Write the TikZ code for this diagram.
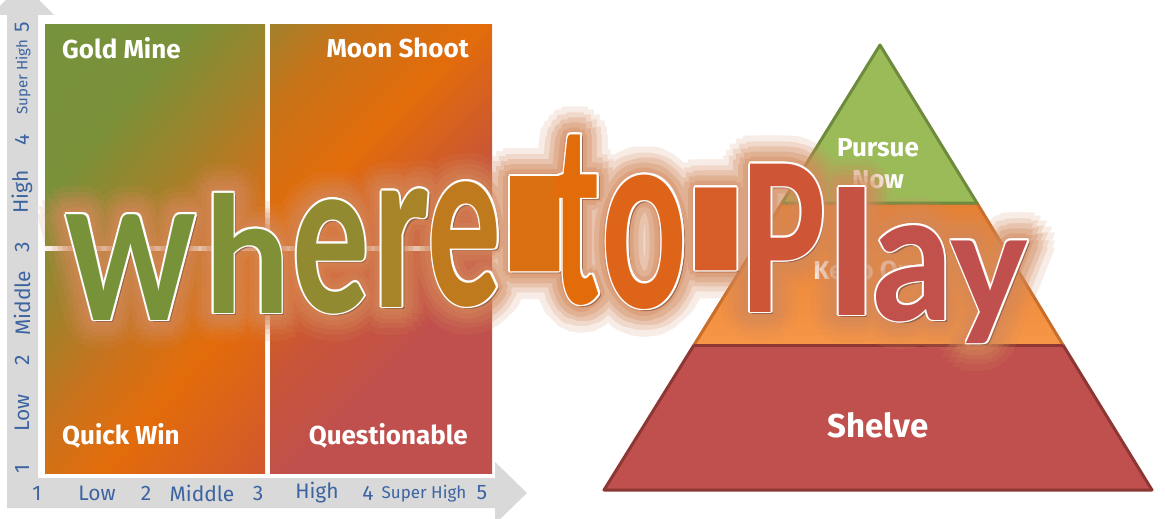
\documentclass[tikz,border=0pt]{standalone}
\usepackage{fontspec}
\setmainfont{Fira Sans}
\newfontfamily\wafam{Carlito}
\usepackage{graphicx}
\definecolor{axgray}{RGB}{217,217,217}
\definecolor{axblue}{RGB}{60,100,160}
\definecolor{qG}{RGB}{118,146,60}
\definecolor{qGtwo}{RGB}{122,145,57}
\definecolor{qOB}{RGB}{160,130,42}
\definecolor{qBO}{RGB}{200,115,30}
\definecolor{qOr}{RGB}{227,108,10}
\definecolor{qRO}{RGB}{210,88,45}
\definecolor{qOl}{RGB}{160,130,45}
\definecolor{qOrtwo}{RGB}{200,115,25}
\definecolor{qRdtwo}{RGB}{200,85,55}
\definecolor{qR}{RGB}{192,80,77}
\definecolor{pyG}{RGB}{155,187,89}
\definecolor{pyGb}{RGB}{110,139,61}
\definecolor{pyOt}{RGB}{228,128,52}
\definecolor{pyOb}{RGB}{247,150,70}
\definecolor{pyObd}{RGB}{200,110,40}
\definecolor{pyR}{RGB}{192,80,77}
\definecolor{pyRb}{RGB}{140,55,52}
\definecolor{waglowc}{RGB}{212,136,90}
\definecolor{washadow}{RGB}{150,95,65}
\definecolor{waA}{RGB}{120,146,58}
\definecolor{waB}{RGB}{128,144,55}
\definecolor{waC}{RGB}{145,138,48}
\definecolor{waD}{RGB}{168,132,40}
\definecolor{waE}{RGB}{192,122,30}
\definecolor{waF}{RGB}{218,112,18}
\definecolor{waG}{RGB}{227,108,10}
\definecolor{waH}{RGB}{222,100,25}
\definecolor{waI}{RGB}{214,92,40}
\definecolor{waJ}{RGB}{206,86,55}
\definecolor{waK}{RGB}{198,82,68}
\definecolor{waL}{RGB}{194,80,75}
\definecolor{waM}{RGB}{192,80,77}
\pgfdeclarehorizontalshading{leftq}{100bp}{color(0bp)=(qG); color(25.2bp)=(qG); color(37.2bp)=(qGtwo); color(45.9bp)=(qOB); color(53.3bp)=(qBO); color(61.1bp)=(qOr); color(74.3bp)=(qRO); color(100bp)=(qRO)}
\pgfdeclarehorizontalshading{rightq}{100bp}{color(0bp)=(qOl); color(25bp)=(qOl); color(31.6bp)=(qOrtwo); color(41bp)=(qOr); color(51.4bp)=(qRdtwo); color(59.7bp)=(qR); color(100bp)=(qR)}
\tikzset{
  qlabel/.style={text=white, font=\fontsize{26}{28}\selectfont\bfseries, inner sep=0pt},
  axlabel/.style={text=axblue, font=\fontsize{21}{23}\selectfont, inner sep=0pt},
  axsmall/.style={text=axblue, font=\fontsize{17}{19}\selectfont, inner sep=0pt},
  pylabel/.style={text=white, font=\fontsize{26}{28}\selectfont\bfseries, inner sep=0pt},
  waletter/.style={anchor=base, inner sep=0pt, font=\wafam\bfseries\fontsize{160}{160}\selectfont},
}
\newcommand\waletters[1]{%
  \foreach \ch/\cx/\by/\sx/\sy/\col in {
    W/131/320/0.9/1.02/waA,
    h/247/313/1.0/1.07/waB,
    e/331/312/0.96/1.43/waC,
    r/402/307/1.0/1.5/waD,
    e/465/305/0.92/1.57/waE,
    -/535/486/1.25/5.75/waF,
    t/577/303/0.87/1.67/waG,
    o/645/307/1.0/1.68/waH,
    -/716/457/1.05/5.0/waI,
    P/784/312/1.0/1.43/waJ,
    l/852/315/1.3/1.14/waK,
    a/912/320/1.05/1.2/waL,
    y/990/318/1.03/1.0/waM}{%
    \node[waletter,text=\col,#1] at (\cx,\by) {\scalebox{\sx}[\sy]{\ch}};}}
\newcommand\waglow[3]{%
  \begin{scope}[transparency group, opacity=#3]
    \foreach \ang in {0,#2,...,359}{\waletters{text=waglowc, xshift={#1*cos(\ang)*1pt}, yshift={#1*sin(\ang)*1pt}}}
  \end{scope}}
\begin{document}
\begin{tikzpicture}[x=1pt,y=-1pt]
\useasboundingbox (0,0) rectangle (1165,519);
\fill[white] (0,0) rectangle (1165,519);
% axes
\fill[axgray] (7,508) -- (7,15) -- (-9,15) -- (22.5,-17) -- (54,15) -- (38,15) -- (38,478)
  -- (495,478) -- (495,462) -- (527,493) -- (495,524) -- (495,508) -- cycle;
% quadrant panels
\begin{scope}
  \clip (45,25) rectangle (265,473);
  \begin{scope}[transform canvas={rotate around={-40:(155,249)}}]
    \shade[shading=leftq] (-75,4) rectangle (385,494);
  \end{scope}
\end{scope}
\begin{scope}
  \clip (270,25) rectangle (492,473);
  \begin{scope}[transform canvas={rotate around={-45:(381,249)}}]
    \shade[shading=rightq] (141,9) rectangle (621,489);
  \end{scope}
\end{scope}
\fill[white] (45,245.5) rectangle (492,250.5);
% quadrant labels
\node[qlabel, anchor=west] (gold) at (62,48) {Gold Mine};
\node[qlabel, anchor=east] (moon) at (469,48) {Moon Shoot};
\node[qlabel, anchor=west] (quick) at (62,436) {Quick Win};
\node[qlabel, anchor=east] (quest) at (468,436) {Questionable};
% horizontal axis labels
\node[axlabel] (h1) at (37,493) {1};
\node[axlabel] (hlow) at (97,493) {Low};
\node[axlabel] (h2) at (146,493) {2};
\node[axlabel] (hmid) at (202,493) {Middle};
\node[axlabel] (h3) at (258,493) {3};
\node[axlabel] (hhigh) at (317,493) {High};
\node[axlabel] (h4) at (368,493) {4};
\node[axsmall] (hsup) at (424,494) {Super High};
\node[axlabel] (h5) at (482,493) {5};
% vertical axis labels
\node[axlabel, rotate=90] (v1) at (22,469) {1};
\node[axlabel, rotate=90] (vlow) at (22,413) {Low};
\node[axlabel, rotate=90] (v2) at (22,360) {2};
\node[axlabel, rotate=90] (vmid) at (22,303) {Middle};
\node[axlabel, rotate=90] (v3) at (22,247) {3};
\node[axlabel, rotate=90] (vhigh) at (22,192) {High};
\node[axlabel, rotate=90] (v4) at (22,140) {4};
\node[axsmall, rotate=90, font=\fontsize{15}{17}\selectfont] (vsup) at (23,77) {Super High};
\node[axlabel, rotate=90] (v5) at (22,27) {5};
% pyramid
\coordinate (apex) at (880,45);
\coordinate (t1l) at (782,203);
\coordinate (t1r) at (977,203);
\coordinate (t2l) at (694,345);
\coordinate (t2r) at (1063,345);
\coordinate (bl) at (604,490);
\coordinate (br) at (1152,490);
\filldraw[fill=pyR, draw=pyRb, line width=3pt, line join=round] (t2l) -- (t2r) -- (br) -- (bl) -- cycle;
\shade[top color=pyOt, bottom color=pyOb] (t1l) -- (t1r) -- (t2r) -- (t2l) -- cycle;
\draw[pyObd, line width=3pt, line join=round] (t2l) -- (t1l) -- (t1r) -- (t2r);
\draw[pyRb, line width=3pt] (t2l) -- (t2r);
\filldraw[fill=pyG, draw=pyGb, line width=3pt, line join=round] (apex) -- (t1r) -- (t1l) -- cycle;
\node[pylabel] (pursue) at (878,148) {Pursue};
\node[pylabel] (now) at (878,180) {Now};
\node[pylabel] (keep) at (878,273) {Keep Open};
\node[pylabel, font=\fontsize{33}{35}\selectfont\bfseries] (shelve) at (878,425) {Shelve};
% word art: glow, shadow, white outline, letters
\waglow{28}{15}{0.15}
\waglow{22}{20}{0.2}
\waglow{17}{24}{0.25}
\waglow{12}{30}{0.3}
\waglow{7}{45}{0.35}
\waglow{3}{90}{0.4}
\begin{scope}[opacity=0.85]
  \waletters{text=washadow, xshift=2.5pt, yshift=-2.5pt}
\end{scope}
\foreach \ang in {0,45,...,315}{\waletters{text=white, xshift={1.8*cos(\ang)*1pt}, yshift={1.8*sin(\ang)*1pt}}}
\waletters{}
\end{tikzpicture}
\end{document}
